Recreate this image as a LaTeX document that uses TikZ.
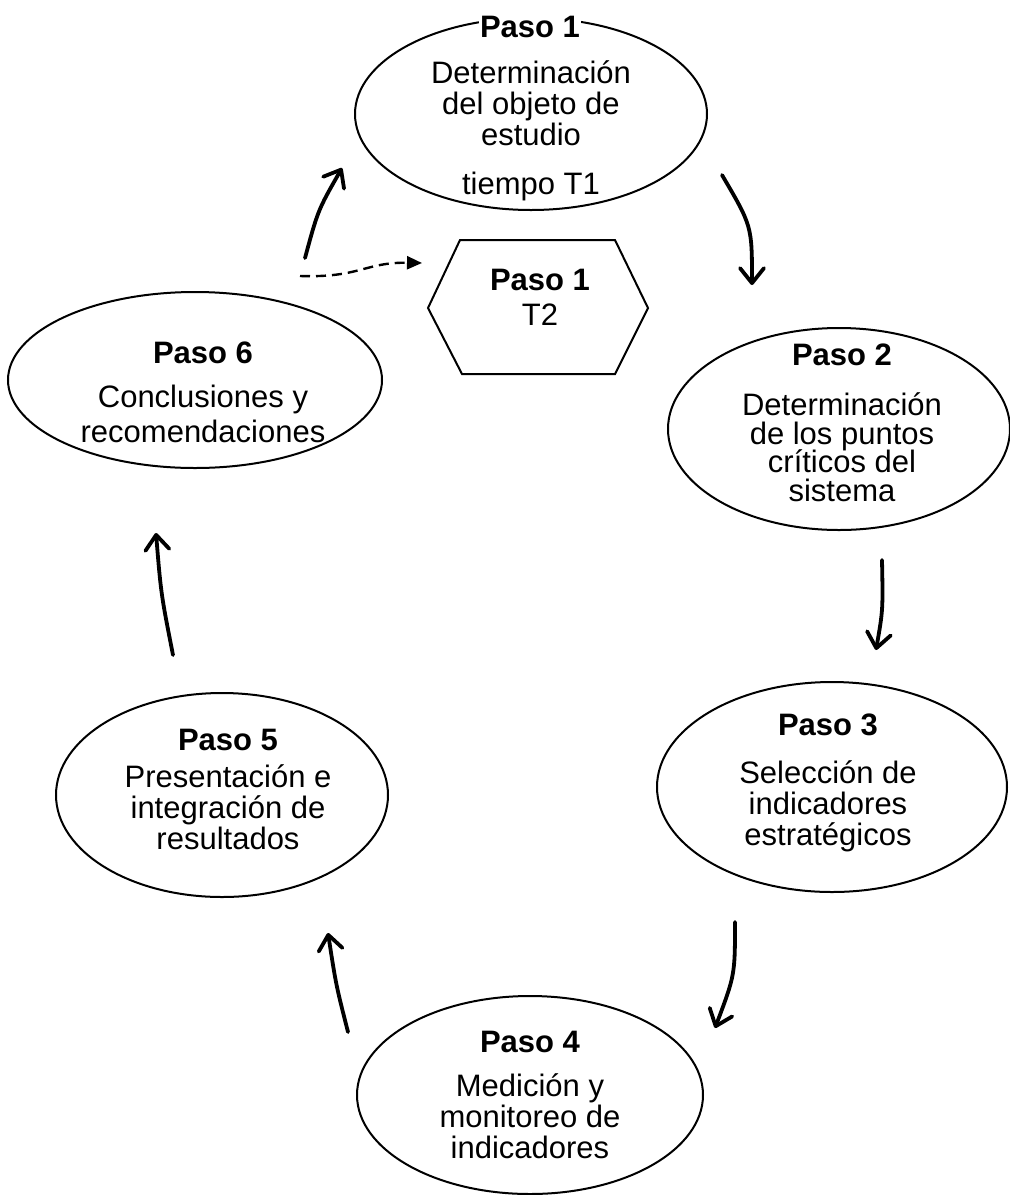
\documentclass[tikz,border=0pt]{standalone}
\usepackage{fontspec}
\setmainfont{Liberation Sans}
\usetikzlibrary{shapes.geometric, arrows.meta, positioning}

\begin{document}
\begin{tikzpicture}[x=1pt, y=-1pt]
	% Styles
	\tikzstyle{paso} = [draw, ellipse, line width=2pt, inner sep=0pt]
	\tikzstyle{titulo} = [align=center, fill=white, inner sep=1pt, font=\fontsize{31pt}{31pt}\selectfont\bfseries]
	\tikzstyle{texto} = [align=center, inner sep=0pt, font=\fontsize{31pt}{31pt}\selectfont]
	\tikzstyle{flecha} = [line width=3.8pt, line cap=round, -{Straight Barb[length=15pt, width=24pt, round]}]
	\tikzstyle{salto} = [line width=2.4pt, dash pattern=on 10pt off 6pt, -{Triangle[length=15pt, width=13pt]}]

	\useasboundingbox (0,0) rectangle (1010,1195);

	% Nodes
	\node (p1) [paso, minimum width=352pt, minimum height=192pt] at (531,114) {};
	\node (p1h) [titulo] at (530,27) {Paso 1};
	\node (p1t) [texto] at (531,131) {Determinación\\del objeto de\\estudio\\[18pt]tiempo T1};

	\node (p2) [paso, minimum width=342pt, minimum height=202pt] at (839,429) {};
	\node (p2h) [titulo] at (842,355) {Paso 2};
	\node (p2t) [texto] at (842,447) {Determinación\\[-2.5pt]de los puntos\\[-2.5pt]críticos del\\[-2.5pt]sistema};

	\node (p3) [paso, minimum width=350pt, minimum height=210pt] at (832,787) {};
	\node (p3h) [titulo] at (828,725) {Paso 3};
	\node (p3t) [texto] at (828,806) {Selección de\\indicadores\\estratégicos};

	\node (p4) [paso, minimum width=346pt, minimum height=198pt] at (530,1095) {};
	\node (p4h) [titulo] at (530,1042) {Paso 4};
	\node (p4t) [texto] at (530,1116) {Medición y\\monitoreo de\\indicadores};

	\node (p5) [paso, minimum width=332pt, minimum height=204pt] at (222,795) {};
	\node (p5h) [titulo] at (228,740) {Paso 5};
	\node (p5t) [texto] at (228,807) {Presentación e\\integración de\\resultados};

	\node (p6) [paso, minimum width=374pt, minimum height=176pt] at (195,380) {};
	\node (p6h) [titulo] at (203,353) {Paso 6};
	\node (p6t) [texto] at (203,414) {Conclusiones y\\[4pt]recomendaciones};

	% Hexagon (Paso 1, T2)
	\draw [line width=2pt] (460,240) -- (615,240) -- (648,308) -- (615,374) -- (462,374) -- (428,308) -- cycle;
	\node (hxh) [titulo] at (540,280) {Paso 1};
	\node (hxt) [texto] at (540,315) {T2};

	% Arrow ends
	\coordinate (a1s) at (722,175);  \coordinate (a1e) at (752,285);
	\coordinate (a2s) at (882,560);  \coordinate (a2e) at (876,650);
	\coordinate (a3s) at (735,922);  \coordinate (a3e) at (715,1028);
	\coordinate (a4s) at (348,1032); \coordinate (a4e) at (328,933);
	\coordinate (a5s) at (173,655);  \coordinate (a5e) at (156,533);
	\coordinate (a6s) at (305,258);  \coordinate (a6e) at (342,168);
	\coordinate (ds) at (300,276);   \coordinate (de) at (422,263);

	% Connections
	\draw [flecha] (a1s) .. controls (752,226) .. (a1e);
	\draw [flecha] (a2s) .. controls (883,610) .. (a2e);
	\draw [flecha] (a3s) .. controls (735,975) .. (a3e);
	\draw [flecha] (a4s) .. controls (336,985) .. (a4e);
	\draw [flecha] (a5s) .. controls (161,594) .. (a5e);
	\draw [flecha] (a6s) .. controls (318,210) .. (a6e);
	\draw [salto] (ds) .. controls (360,278) and (365,262) .. (de);

\end{tikzpicture}
\end{document}
